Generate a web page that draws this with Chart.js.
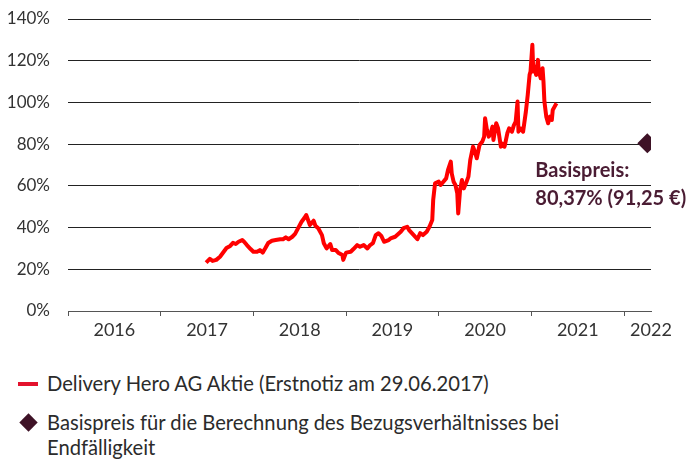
<!DOCTYPE html>
<html><head><meta charset="utf-8">
<script src="https://cdn.jsdelivr.net/npm/chart.js@4/dist/chart.umd.min.js"></script>
<style>
html,body{margin:0;padding:0;background:#fff;}
#wrap{position:relative;width:686px;height:461px;overflow:hidden;}
canvas{position:absolute;left:0;top:0;}
.leg{position:absolute;left:47px;font-family:Lato,sans-serif;font-size:20.2px;line-height:25px;color:#2b2b2b;white-space:nowrap;}
.dash{position:absolute;left:18px;top:382px;width:20px;height:4px;background:#e3122d;}
.dia{position:absolute;left:22px;top:416px;width:13px;height:13px;background:#3e1226;transform:rotate(45deg);}
</style></head>
<body><div id="wrap">
<canvas id="c" width="686" height="345"></canvas>
<div class="dash"></div>
<div class="leg" style="top:371px">Delivery Hero AG Aktie (Erstnotiz am 29.06.2017)</div>
<div class="dia"></div>
<div class="leg" style="top:410px">Basispreis für die Berechnung des Bezugsverhältnisses bei<br>Endfälligkeit</div>
</div>
<script>
// decimal year positions of the share price series
const dates = [
2017.49,2017.53,2017.56,2017.60,2017.64,2017.67,2017.71,2017.75,2017.78,2017.81,2017.84,2017.88,2017.90,2017.93,2017.97,
2018.00,2018.04,2018.07,2018.10,2018.13,2018.16,2018.20,2018.24,2018.29,2018.32,2018.35,2018.38,2018.42,2018.45,2018.48,
2018.52,2018.55,2018.57,2018.59,2018.61,2018.65,2018.67,2018.70,2018.74,2018.76,2018.79,2018.83,2018.85,2018.89,2018.92,
2018.96,2018.97,2019.00,2019.05,2019.08,2019.12,2019.15,2019.19,2019.23,2019.26,2019.29,2019.32,2019.35,2019.38,2019.41,
2019.46,2019.48,2019.53,2019.59,2019.62,2019.66,2019.68,2019.73,2019.77,2019.80,2019.83,2019.87,2019.90,2019.93,2019.94,
2019.96,2020.00,2020.02,2020.05,2020.08,2020.10,2020.13,2020.14,2020.16,2020.18,2020.20,2020.21,2020.23,2020.25,2020.27,
2020.30,2020.32,2020.34,2020.37,2020.39,2020.41,2020.44,2020.47,2020.49,2020.50,2020.52,2020.54,2020.56,2020.58,2020.59,
2020.62,2020.64,2020.67,2020.68,2020.71,2020.74,2020.76,2020.79,2020.81,2020.83,2020.85,2020.86,2020.88,2020.91,2020.94,
2020.96,2020.98,2020.99,2021.01,2021.02,2021.04,2021.05,2021.07,2021.08,2021.10,2021.12,2021.13,2021.14,2021.16,2021.18,
2021.20,2021.22,2021.23,2021.25,2021.27];
// share price in % of reference
const shareValues = [
23.2,25.0,24.0,24.5,26.0,27.8,30.2,31.2,32.7,32.1,33.2,34.0,33.2,31.6,29.7,
28.4,28.4,29.2,28.0,30.2,32.6,33.7,34.0,34.4,34.4,35.3,34.4,35.6,37.0,39.5,
42.8,44.6,46.0,43.6,41.2,43.3,40.8,39.7,36.4,32.5,30.0,32.1,29.2,29.2,27.8,
26.8,24.5,28.0,28.4,29.7,31.6,30.8,31.6,30.0,31.6,32.5,36.4,37.3,36.0,33.2,
34.0,34.8,35.6,38.0,39.7,40.4,38.8,36.4,34.4,37.3,36.4,38.0,40.4,43.6,53.2,
61.2,62.0,60.4,62.0,63.6,67.6,71.6,66.0,62.0,60.4,56.4,46.8,58.0,62.8,58.8,
62.0,64.4,72.4,78.8,76.4,73.2,79.6,81.2,83.6,92.4,86.8,83.6,85.2,88.4,82.0,
90.0,87.6,78.8,80.4,78.8,85.2,87.6,86.0,89.0,90.8,100.4,86.0,87.6,86.0,95.6,
103.6,113.2,114.8,127.6,114.8,117.2,113.2,120.4,114.8,111.6,116.4,110.0,100.4,93.2,90.0,
93.2,91.6,96.4,98.0,99.6];
const basisDate = [2022.25];
const basisValue = [80.37];
const basisLabel = ['Basispreis:', '80,37% (91,25 €)'];
const yearTicks = [2016,2017,2018,2019,2020,2021,2022];
const yearLabelPos = [2016.5,2017.5,2018.5,2019.5,2020.5,2021.5,2022.29];
const yTicks = [0,20,40,60,80,100,120,140];
const xMin = 2016, xMax = 2022.29;

const annot = {
  id:'annot',
  afterDatasetsDraw(chart){
    const {ctx, scales:{x,y}} = chart;
    const px = x.getPixelForValue(basisDate[0]);
    const py = y.getPixelForValue(basisValue[0]);
    ctx.save();
    ctx.fillStyle = '#4a1c33';
    ctx.font = 'bold 20px Lato, sans-serif';
    ctx.textAlign = 'left';
    ctx.textBaseline = 'middle';
    ctx.fillText(basisLabel[0], px - 112, py + 27);
    ctx.fillText(basisLabel[1], px - 112, py + 55);
    ctx.restore();
  }
};

new Chart(document.getElementById('c'), {
  type:'line',
  data:{datasets:[
    {data: dates.map((d,i)=>({x:d,y:shareValues[i]})), borderColor:'#ff0000', borderWidth:4,
     pointRadius:0, tension:0, fill:false, borderJoinStyle:'round', order:2},
    {type:'scatter', data: basisDate.map((d,i)=>({x:d,y:basisValue[i]})), pointStyle:'rectRot',
     pointRadius:10, backgroundColor:'#3e1226', borderColor:'#3e1226', borderWidth:0, order:1}
  ]},
  options:{
    responsive:false, animation:false, devicePixelRatio:1,
    layout:{padding:{left:0,right:35,top:19,bottom:0}},
    plugins:{legend:{display:false}, tooltip:{enabled:false}},
    scales:{
      x:{type:'linear', min:xMin, max:xMax, weight:0,
        afterBuildTicks:s=>{s.ticks = yearTicks.map(v=>({value:v}));},
        afterFit:s=>{s.height=0;},
        grid:{drawOnChartArea:false, drawTicks:true, tickLength:5, color:'#555'},
        border:{display:true, color:'#555', width:1},
        ticks:{display:false}
      },
      x2:{type:'linear', position:'bottom', min:xMin, max:xMax, weight:1,
        afterBuildTicks:s=>{s.ticks = yearLabelPos.map(v=>({value:v}));},
        afterFit:s=>{s.height=34;},
        grid:{display:false, drawTicks:false},
        border:{display:false},
        ticks:{padding:8, color:'#333', font:{family:'Lato', size:18}, maxRotation:0, autoSkip:false,
          callback:v=>String(Math.floor(v))}
      },
      y:{min:0, max:140,
        afterBuildTicks:s=>{s.ticks = yTicks.map(v=>({value:v}));},
        afterFit:s=>{s.width=68;},
        grid:{color:'#222', lineWidth:1, drawTicks:true, tickLength:10, tickColor:'rgba(0,0,0,0)'},
        border:{display:false},
        ticks:{padding:8, color:'#333', font:{family:'Lato', size:17}, callback:v=>v+'%'}
      }
    }
  },
  plugins:[annot]
});
</script>
</body></html>
